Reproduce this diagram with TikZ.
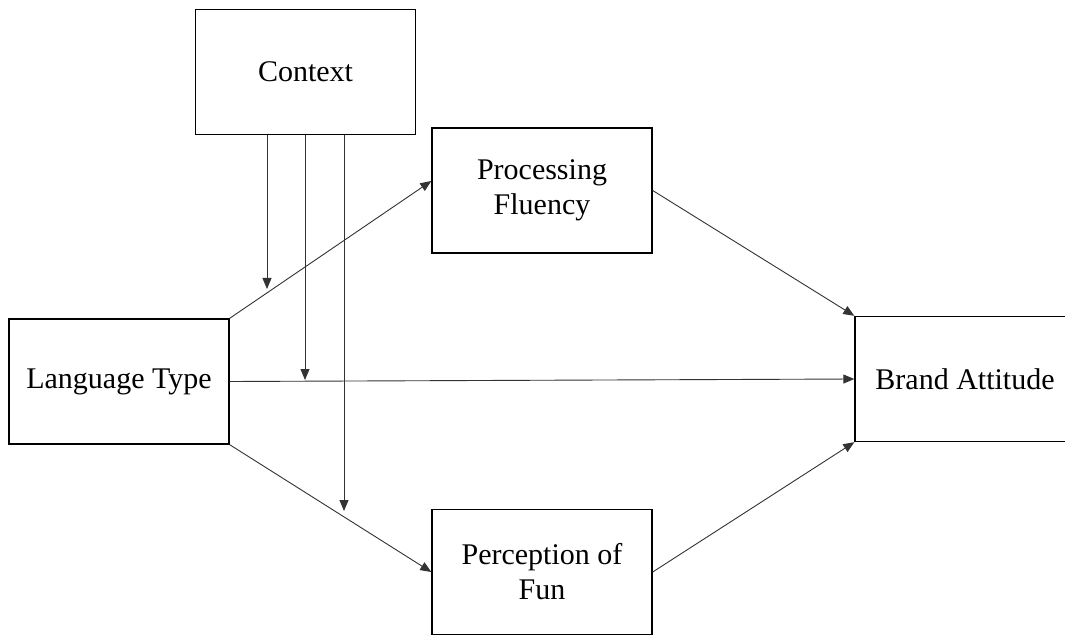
\documentclass[tikz,border=0pt]{standalone}
\usepackage{fontspec}
\setmainfont{Liberation Serif}
\usetikzlibrary{arrows.meta}
\begin{document}
\begin{tikzpicture}[x=1pt,y=-1pt,
  box/.style={draw=black,line width=1.4pt,minimum width=220pt,minimum height=125pt,
    inner sep=0pt,align=center,font=\fontsize{30}{35}\selectfont},
  conn/.style={draw=black!80,line width=0.9pt,-{Triangle[length=11pt,width=9pt]}},
  ]
\useasboundingbox (0,0) rectangle (1065,636);
\clip (0,0) rectangle (1065,636);
\fill[white] (0,0) rectangle (1065,636);
\node[box] (ctx) at (305.5,72) {Context};
\node[box] (pf) at (542,190.5) {Processing\\Fluency};
\node[box] (lt) at (119,381.5) {Language Type};
\node[box] (ba) at (965,379) {Brand Attitude};
\node[box] (pof) at (542,572) {Perception of\\Fun};
\coordinate (m1) at (267,289);
\coordinate (m2) at (305,380);
\coordinate (m3) at (344,511);
\draw[conn] (lt.north east) -- ([yshift=9.5pt]pf.west);
\draw[conn] (lt.east) -- (ba.west);
\draw[conn] (lt.south east) -- (pof.west);
\draw[conn] (pf.east) -- (ba.north west);
\draw[conn] (pof.east) -- (ba.south west);
\draw[conn] (ctx.south -| m1) -- (m1);
\draw[conn] (ctx.south -| m2) -- (m2);
\draw[conn] (ctx.south -| m3) -- (m3);
\end{tikzpicture}
\end{document}
